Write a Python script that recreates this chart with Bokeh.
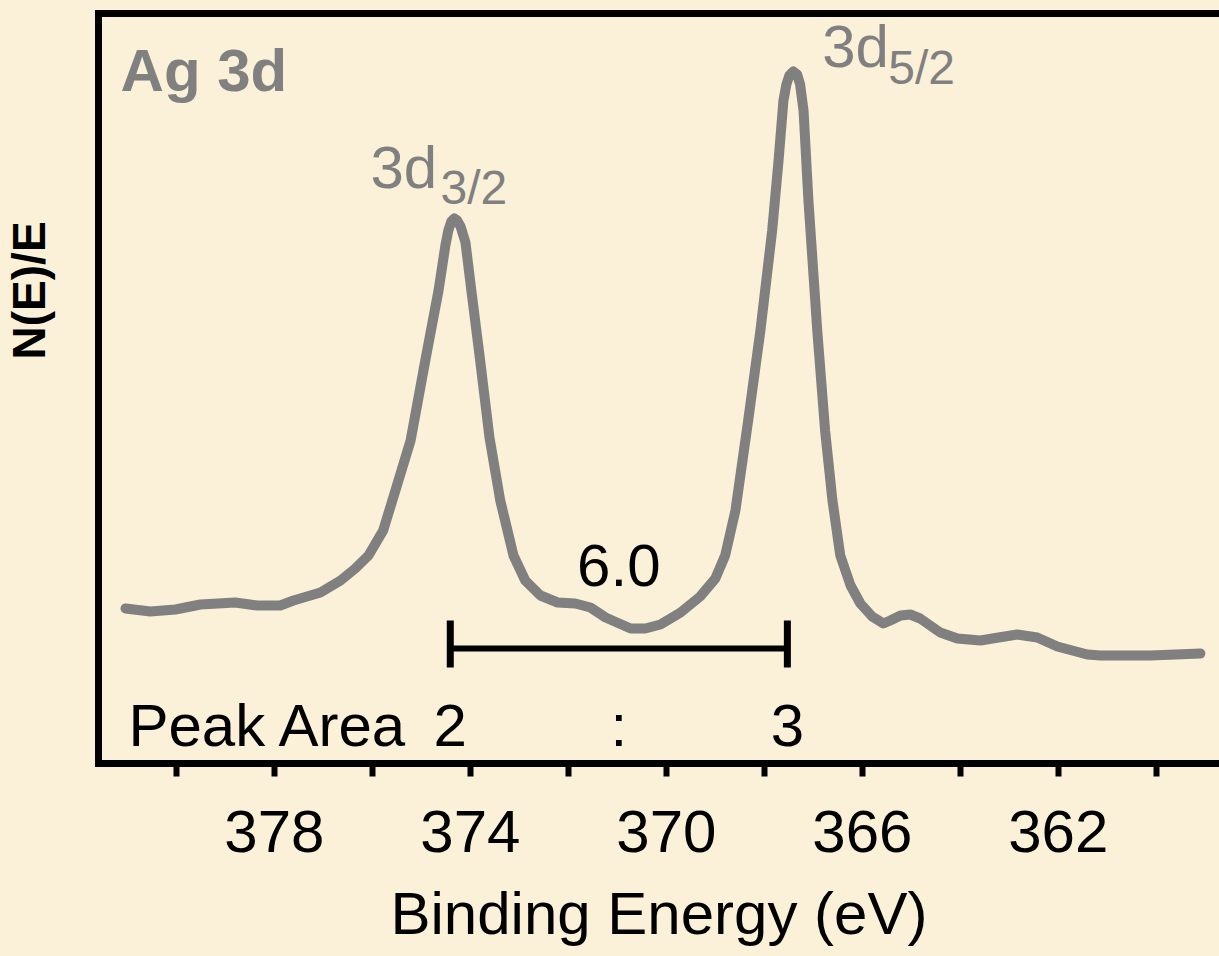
import math
from bokeh.plotting import figure
from bokeh.layouts import row
from bokeh.models import Range1d, LinearAxis, FixedTicker, Label, ColumnDataSource
from bokeh.embed import file_html
from bokeh.resources import INLINE

# ---- data (binding energy in eV, intensity in arb. units) ----
binding_energy = [381.04, 380.53, 380.02, 379.51, 378.80, 378.35, 377.88, 377.61, 377.06, 376.65,
                  376.35, 376.08, 375.78, 375.53, 375.22, 374.92, 374.65, 374.51, 374.45, 374.39,
                  374.33, 374.27, 374.20, 374.10, 373.98, 373.80, 373.61, 373.39, 373.12, 372.88,
                  372.57, 372.22, 371.86, 371.55, 371.24, 370.73, 370.43, 370.12, 369.71, 369.31,
                  369.00, 368.80, 368.59, 368.33, 368.08, 367.84, 367.71, 367.61, 367.55, 367.49,
                  367.41, 367.33, 367.27, 367.20, 367.10, 366.92, 366.76, 366.61, 366.45, 366.24,
                  366.04, 365.80, 365.57, 365.43, 365.22, 365.02, 364.82, 364.41, 364.06, 363.59,
                  363.22, 362.84, 362.43, 362.02, 361.41, 361.14, 360.12, 359.10]
intensity = [155, 152, 154, 159, 161, 158, 158, 163, 171, 183,
             195, 208, 233, 273, 323, 403, 473, 518, 533, 542,
             545, 543, 537, 521, 473, 403, 326, 263, 208, 183,
             168, 161, 160, 156, 146, 135, 135, 139, 151, 167,
             185, 208, 253, 343, 433, 533, 603, 663, 679, 688,
             692, 689, 679, 653, 563, 433, 333, 263, 208, 178,
             160, 147, 140, 143, 148, 149, 145, 131, 125, 123,
             126, 129, 126, 117, 109, 108, 108, 110]

peak_names = ["3d", "3d"]
peak_subscripts = ["3/2", "5/2"]
peak_energies = [374.41, 367.53]      # ends of the splitting bar
peak_area_ratio = ["2", "3"]
splitting_text = "6.0"
major_ticks = [378, 374, 370, 366, 362]
minor_ticks = [380, 376, 372, 368, 364, 360]
y_title = "N(E)/E"

BG = "#FBF0D8"
GREY = "#808080"
FONT = "Liberation Sans"

# ---------- narrow strip that carries the rotated y-axis title ----------
lab_w = 70
yl = figure(width=lab_w, height=956, output_backend="svg", toolbar_location=None,
            x_range=Range1d(0, lab_w), y_range=Range1d(0, 956),
            x_axis_location=None, y_axis_location=None, min_border=0)
yl.background_fill_color = BG
yl.border_fill_color = BG
yl.outline_line_color = None
yl.xgrid.visible = False
yl.ygrid.visible = False
yl.add_layout(Label(x=28, y=603, text=y_title, text_font=FONT, text_font_size="46px",
                    text_font_style="bold", text_color="black", text_align="center",
                    text_baseline="middle", angle=math.pi / 2))

# ---------- main plot ----------
p = figure(width=1219 - lab_w, height=956, output_backend="svg", toolbar_location=None,
           x_range=Range1d(381.59, 358.71), y_range=Range1d(0, 750),
           min_border_left=98 - lab_w, min_border_top=13, min_border_right=0,
           min_border_bottom=193)
p.background_fill_color = BG
p.border_fill_color = BG
p.outline_line_color = None
p.xgrid.visible = False
p.ygrid.visible = False

# bottom axis
xa = p.xaxis[0]
xa.ticker = FixedTicker(ticks=major_ticks, minor_ticks=minor_ticks)
xa.axis_line_width = 7
xa.axis_line_color = "black"
xa.axis_line_cap = "square"
xa.major_tick_line_width = 6
xa.minor_tick_line_width = 6
xa.major_tick_in = 0
xa.major_tick_out = 13
xa.minor_tick_in = 0
xa.minor_tick_out = 13
xa.major_label_text_font = FONT
xa.major_label_text_font_size = "60px"
xa.major_label_text_color = "black"
xa.major_label_standoff = 34
xa.axis_label = "Binding Energy (eV)"
xa.axis_label_text_font = FONT
xa.axis_label_text_font_size = "60px"
xa.axis_label_text_font_style = "normal"
xa.axis_label_text_color = "black"
xa.axis_label_standoff = 25

# left axis (line only)
ya = p.yaxis[0]
ya.ticker = FixedTicker(ticks=[])
ya.major_label_text_font_size = "0px"
ya.major_label_standoff = 0
ya.major_tick_line_color = None
ya.minor_tick_line_color = None
ya.axis_line_width = 7
ya.axis_line_cap = "square"

# top frame line
top = LinearAxis(ticker=FixedTicker(ticks=[]), major_label_text_font_size="0px",
                 major_label_standoff=0,
                 major_tick_line_color=None, minor_tick_line_color=None,
                 axis_line_width=7, axis_line_cap="square")
p.add_layout(top, "above")

# spectrum
src = ColumnDataSource(dict(x=binding_energy, y=intensity))
p.line("x", "y", source=src, line_color=GREY, line_width=10, line_join="round", line_cap="round")

# splitting bar
bar_y = 115
p.segment(x0=[peak_energies[0]], y0=[bar_y], x1=[peak_energies[1]], y1=[bar_y],
          line_color="black", line_width=6)
p.segment(x0=peak_energies, y0=[96, 96], x1=peak_energies, y1=[143, 143],
          line_color="black", line_width=7)

mid = (peak_energies[0] + peak_energies[1]) / 2

def lab(x, y, text, size=60, color="black", style="normal", align="left"):
    # Label baseline correction (~0.38 of font size) so that the glyph baseline sits at y
    p.add_layout(Label(x=x, y=y + 0.38 * size, text=text, text_font=FONT,
                       text_font_size=f"{size}px", text_color=color,
                       text_font_style=style, text_align=align,
                       text_baseline="alphabetic"))

lab(mid, 175, splitting_text, align="center")
lab(380.98, 15, "Peak Area")
lab(peak_energies[0], 15, peak_area_ratio[0], align="center")
lab(mid, 15, ":", align="center")
lab(peak_energies[1], 15, peak_area_ratio[1], align="center")

lab(381.14, 670, "Ag 3d", color=GREY, style="bold")

# peak labels with subscripts
lab(376.04, 573, peak_names[0], color=GREY)
lab(374.61, 558, peak_subscripts[0], color=GREY, size=48)
lab(366.82, 694, peak_names[1], color=GREY)
lab(365.47, 678, peak_subscripts[1], color=GREY, size=48)

layout = row(yl, p, spacing=0, styles={"background-color": BG})
html = file_html(layout, INLINE)
html = html.replace("<body>", f'<body style="margin:0;background:{BG};">', 1)
open("out.html", "w").write(html)
